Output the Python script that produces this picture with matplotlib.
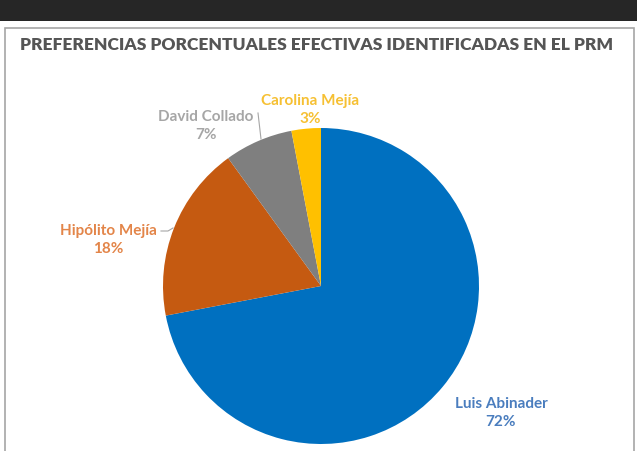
import matplotlib
matplotlib.use("Agg")
import matplotlib.pyplot as plt
from matplotlib.patches import Rectangle

# data
candidates = ["Luis Abinader", "Hipólito Mejía", "David Collado", "Carolina Mejía"]
shares = [72, 18, 7, 3]
slice_colors = ["#0070C0", "#C55A11", "#7F7F7F", "#FFC000"]
label_colors = ["#4A7DBE", "#E38549", "#A6A6A6", "#F6C033"]
title = "PREFERENCIAS PORCENTUALES EFECTIVAS IDENTIFICADAS EN EL PRM"

plt.rcParams["font.family"] = ["Lato", "DejaVu Sans"]

W, H = 637, 452
fig = plt.figure(figsize=(W / 100, H / 100), dpi=100)

# dark toolbar strip at the top of the screenshot
fig.patches.append(Rectangle((0, 1 - 22 / H), 1, 22 / H, transform=fig.transFigure,
                             facecolor="#262626", edgecolor="none", zorder=-2))
# chart border
fig.patches.append(Rectangle((5 / W, -0.01), 629 / W, (H - 29) / H + 0.01,
                             transform=fig.transFigure, facecolor="white",
                             edgecolor="#A6A6A6", linewidth=1.2, zorder=-1))

fig.text(316.5 / W, 1 - 45 / H, title, ha="center", va="center",
         fontsize=12.5, fontweight="heavy", color="#555555")

# pie: centre (321, 287) px, radius 158 px
cx, cy, r = 321, 287, 158
ax = fig.add_axes([(cx - r) / W, (H - cy - r) / H, 2 * r / W, 2 * r / H])
ax.set_zorder(2)
ax.pie(shares, colors=slice_colors, startangle=90, counterclock=False,
       radius=1, wedgeprops=dict(linewidth=0))
ax.set_xlim(-1, 1)
ax.set_ylim(-1, 1)
ax.set_aspect("equal")
ax.axis("off")


def px(x, y):
    # screen pixel -> pie data units
    return (x - cx) / r, (cy - y) / r


label_pos = [(501, 413), (108, 240), (206, 126), (310, 110)]
for name, val, col, (lx, ly) in zip(candidates, shares, label_colors, label_pos):
    ax.text(*px(lx, ly), f"{name}\n{val}%", ha="center", va="center",
            multialignment="center", fontsize=11, fontweight="bold",
            color=col, linespacing=1.3, clip_on=False)

# leader lines
ax.plot(*zip(px(161, 232), px(168, 232), px(173, 229)), color="#A6A6A6",
        lw=0.8, clip_on=False)
ax.plot(*zip(px(258, 114), px(261, 140)), color="#A6A6A6", lw=0.8, clip_on=False)

fig.savefig("out.png", dpi=100)
